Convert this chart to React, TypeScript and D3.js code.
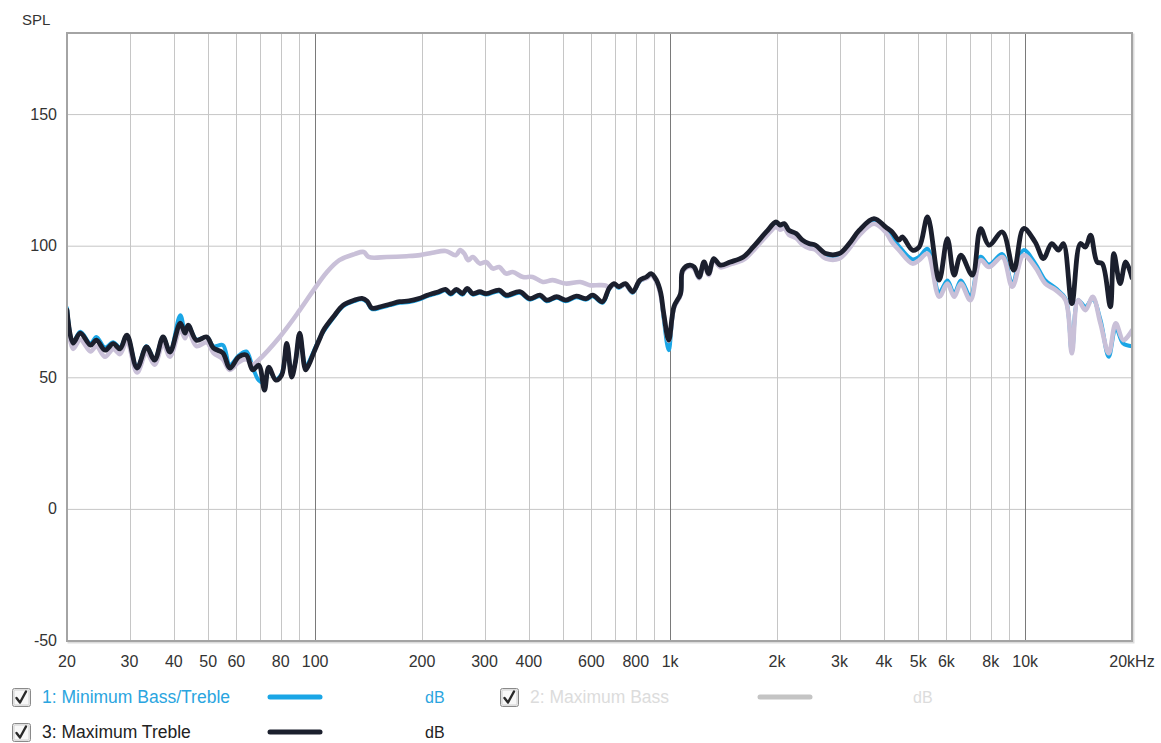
import React from "react";
import * as d3 from "d3";

// Frequency responses, [Hz, dB SPL]
const minBassTreble: [number, number][] = [
  [20, 76.5], [20.8, 63.5], [21.8, 67.5], [23.3, 63], [24.2, 65.5], [25.6, 61.5], [27, 63.5], [28.2, 61.5],
  [29.5, 66], [31.5, 54], [33.5, 62], [35.3, 57], [37.3, 65.5], [39, 60], [41.7, 73.8], [43, 68], [43.9, 70],
  [46.3, 64.5], [49.5, 65.5], [51.7, 62], [55, 62.4], [57.5, 55], [61, 58.5], [64, 60], [66.7, 54], [69.4, 49],
  [72, 48], [74, 53], [77.5, 49.5], [80.5, 51.5], [83.2, 62], [85.9, 51], [88, 56], [90.5, 66], [94, 54],
  [96, 56], [99, 60], [103.5, 65.5], [105.5, 67.5], [112.6, 72.8], [120, 77.2], [128.8, 79.1], [135.5, 79.8],
  [140, 78.8], [144.5, 76.1], [152.7, 76.6], [163, 77.6], [173, 78.5], [184, 78.8], [196, 79.7], [207, 81],
  [214, 81.6], [223, 82.3], [233, 83.2], [241, 81.6], [250, 83.2], [260, 81.6], [268, 83.6], [278, 81.6],
  [291, 82.3], [303, 81.6], [330, 82.9], [345, 81], [377, 82.3], [402, 79.7], [430, 81], [449, 79.1],
  [479, 80.4], [508, 79.1], [544, 80.6], [580, 79.7], [605, 81], [645, 78.5], [673, 83.6], [695, 85.4],
  [717, 84.2], [748, 85.4], [784, 82.3], [822, 86.7], [857, 87.9], [884, 89.2], [915, 86.7], [940, 82],
  [959, 72.5], [991, 60.5], [1025, 76.5], [1070, 81.6], [1085, 90.5], [1136, 92.4], [1169, 91.7], [1207, 87.9],
  [1246, 93.6], [1284, 89.2], [1326, 94.9], [1385, 92.4], [1477, 93.6], [1607, 95.4], [1714, 99.1],
  [1865, 104.7], [1988, 108.4], [2040, 107.4], [2097, 108], [2163, 105.4], [2264, 104.2], [2360, 101.7],
  [2460, 100.4], [2565, 99.8], [2747, 96.4], [2995, 96.4], [3195, 100.2], [3407, 105.2], [3752, 109.6],
  [4046, 106.5], [4220, 103.5], [4413, 100], [4815, 95], [5030, 96], [5310, 99], [5725, 82.5], [6040, 87],
  [6310, 82], [6590, 87], [7010, 81], [7490, 96], [7910, 93], [8625, 97], [9200, 86], [9900, 98.5],
  [10670, 93.5], [11400, 87], [12200, 84], [13000, 80], [13540, 60], [14100, 79.5], [14790, 77], [15500, 80],
  [16300, 72], [17200, 58], [18000, 69], [18900, 63], [20000, 62],
];

const maxBass: [number, number][] = [
  [20, 74], [20.8, 61], [21.8, 64.5], [23.3, 60], [24.2, 62], [25.6, 58], [27, 61], [28.2, 59], [29.5, 64],
  [31.5, 52], [33.5, 59.5], [35.3, 55], [37.3, 63], [39, 58], [41.7, 68.5], [43, 65], [43.9, 68], [46.3, 62],
  [49.5, 63.5], [51.7, 59.5], [55, 57], [57.5, 53], [61, 56], [64, 57], [66.7, 55], [69, 56.5], [80, 66],
  [90.5, 75.7], [99, 83.3], [108, 90.2], [117, 94.7], [129, 97], [137, 97.8], [141.5, 95.9], [159, 95.9],
  [181, 96.2], [197.5, 96.6], [214, 97.5], [233, 98.2], [249, 96.6], [256, 98.5], [263, 97.2], [270, 94.7],
  [278, 95.9], [291, 93.4], [303, 94], [317, 91.5], [330, 92.1], [345, 89.6], [360, 90.2], [385, 88.3],
  [410, 88.3], [438, 86.4], [467, 87.1], [508, 85.8], [558, 86.4], [594, 85.2], [633, 85.2], [660, 85],
  [673, 84], [695, 85.6], [717, 84.6], [748, 85.4], [784, 82.6], [822, 86.9], [857, 87.8], [884, 89],
  [915, 86.5], [940, 81.5], [959, 74], [991, 64], [1025, 76.5], [1070, 81.5], [1085, 90.3], [1136, 92.2],
  [1169, 91.4], [1207, 87.8], [1246, 93.4], [1284, 89], [1326, 94.6], [1385, 92], [1477, 93.1], [1607, 94.8],
  [1714, 98.3], [1865, 103.8], [1988, 107.3], [2040, 106.3], [2097, 106.8], [2163, 104.3], [2264, 103.1],
  [2360, 100.6], [2460, 99.3], [2565, 98.7], [2747, 95.3], [2995, 95.3], [3195, 99.1], [3407, 104.1],
  [3752, 108.5], [4046, 105.3], [4220, 101.5], [4413, 98.5], [4815, 93.4], [5030, 94.7], [5310, 97.2],
  [5725, 80.8], [6040, 85.8], [6310, 80.8], [6590, 85.8], [7010, 79.5], [7490, 94.7], [7910, 92.1],
  [8625, 95.9], [9200, 84.6], [9900, 96.6], [10670, 92.1], [11400, 85.8], [12200, 83.3], [13000, 79.5],
  [13540, 59.3], [14100, 79.5], [14790, 75.7], [15500, 80.8], [16300, 70.7], [17200, 59.3], [18000, 70.7],
  [18900, 64.3], [20000, 68],
];

const maxTreble: [number, number][] = [
  [20, 75.7], [20.8, 63.2], [21.8, 67], [23.3, 62.4], [24.2, 64.3], [25.6, 60.5], [27, 63], [28.2, 61],
  [29.5, 66.2], [31.5, 53.7], [33.5, 61.7], [35.3, 56.7], [37.3, 65.5], [39, 59.8], [41.7, 70.8], [43, 67],
  [43.9, 70], [46.3, 64.3], [49.5, 65.5], [51.7, 61.3], [55, 59.4], [57.5, 53.7], [61, 58], [64, 58.6],
  [66.7, 53], [69.4, 54.8], [72, 45.3], [74, 54], [77.5, 49.1], [80.5, 51], [83.2, 63.1], [85.9, 50.3],
  [88, 56], [90.5, 67], [94, 53], [96, 55], [99, 59.4], [103.5, 65.5], [105.5, 68], [112.6, 73.2],
  [120, 77.6], [128.8, 79.5], [135.5, 80.2], [140, 79.2], [144.5, 76.5], [152.7, 77], [163, 78],
  [173, 78.9], [184, 79.2], [196, 80.1], [207, 81.4], [214, 82], [223, 82.7], [233, 83.6], [241, 82],
  [250, 83.6], [260, 82], [268, 84], [278, 82], [291, 82.7], [303, 82], [330, 83.3], [345, 81.4],
  [377, 82.7], [402, 80.1], [430, 81.4], [449, 79.5], [479, 80.8], [508, 79.5], [544, 81], [580, 80.1],
  [605, 81.4], [645, 78.9], [673, 84], [695, 85.8], [717, 84.6], [748, 85.8], [784, 82.7], [822, 87.1],
  [857, 88.3], [884, 89.6], [915, 87.1], [940, 82.5], [959, 74.5], [991, 64.3], [1025, 77], [1070, 82],
  [1085, 90.9], [1136, 92.8], [1169, 92.1], [1207, 88.3], [1246, 94], [1284, 89.6], [1326, 95.3],
  [1385, 92.8], [1477, 94], [1607, 95.9], [1714, 99.7], [1865, 105.4], [1988, 109.2], [2040, 108],
  [2097, 108.6], [2163, 106], [2264, 104.8], [2360, 102.3], [2460, 101], [2565, 100.4], [2747, 97.2],
  [2995, 97.2], [3195, 101], [3407, 106], [3752, 110.5], [4046, 107.3], [4220, 105.4], [4413, 102.3],
  [4510, 103.5], [4815, 98.5], [5030, 99.7], [5310, 111.1], [5725, 87.1], [6040, 102.9], [6310, 89],
  [6590, 96.6], [7100, 89], [7490, 106.7], [7910, 100.4], [8625, 105.4], [9290, 90.9], [9900, 106.7],
  [10670, 101.6], [11260, 95.3], [11880, 101], [12410, 98.5], [12820, 101], [13540, 78.2], [14300, 101],
  [14790, 99.7], [15290, 104.2], [15950, 94], [16490, 93.4], [17380, 77], [17780, 97.2], [18520, 85.8],
  [19200, 94], [20000, 88],
];

const yTicks = [150, 100, 50, 0, -50];
const xGrid = [
  30, 40, 50, 60, 70, 80, 90, 100, 200, 300, 400, 500, 600, 700, 800, 900, 1000,
  2000, 3000, 4000, 5000, 6000, 7000, 8000, 9000, 10000,
];
const decadeLines = [100, 1000, 10000];
const xTickValues = [20, 30, 40, 50, 60, 80, 100, 200, 300, 400, 600, 800, 1000, 2000, 3000, 4000, 5000, 6000, 8000, 10000, 20000];
const xTickLabels = ["20", "30", "40", "50", "60", "80", "100", "200", "300", "400", "600", "800", "1k", "2k", "3k", "4k", "5k", "6k", "8k", "10k", "20kHz"];

const legendItems = [
  { label: "1: Minimum Bass/Treble", color: "#1aa6e6", text: "#2aa5e0", row: 0, col: 0 },
  { label: "2: Maximum Bass", color: "#c4c4c4", text: "#dcdcdc", row: 0, col: 1 },
  { label: "3: Maximum Treble", color: "#1b1f2d", text: "#222222", row: 1, col: 0 },
];

const FONT = "'Liberation Sans', Arial, sans-serif";

const left = 67, right = 1132, top = 33, bottom = 641;

const x = d3.scaleLog().domain([20, 20000]).range([left, right]);
const y = d3.scaleLinear().domain([-50, 181]).range([bottom, top]);

const line = d3
  .line<[number, number]>()
  .x((d) => x(d[0]))
  .y((d) => y(d[1]))
  .curve(d3.curveCatmullRom.alpha(0.5));

function Checkbox({ px, py }: { px: number; py: number }) {
  return (
    <g transform={`translate(${px},${py})`}>
      <rect x={0.5} y={0.5} width={18} height={18} rx={2} fill="#eeeeee" stroke="#8a8a8a" strokeWidth={1} />
      <rect x={2} y={2} width={15} height={15} rx={1} fill="#f8f8f8" stroke="#d0d0d0" strokeWidth={1} />
      <path d="M4.5,10 L8,14.5 L14,3.5" fill="none" stroke="#2a2a2a" strokeWidth={2.4} strokeLinecap="round" strokeLinejoin="round" />
    </g>
  );
}

export default function App() {
  const series = [
    { data: minBassTreble, color: "#1aa6e6", width: 4 },
    { data: maxBass, color: "#c9c0d8", width: 4.6 },
    { data: maxTreble, color: "#1b1f2d", width: 4.8 },
  ];
  return (
    <div style={{ position: "absolute", left: 0, top: 0 }}>
      <svg width={1161} height={743} style={{ display: "block", background: "#ffffff" }} fontFamily={FONT}>
        <defs>
          <clipPath id="plot-clip">
            <rect x={left} y={top} width={right - left} height={bottom - top} />
          </clipPath>
        </defs>

        {/* frame shadow */}
        <rect x={left + 1.5} y={top + 1.5} width={right - left} height={bottom - top} fill="none" stroke="#dcdcdc" strokeWidth={2} />
        <rect x={left} y={top} width={right - left} height={bottom - top} fill="#ffffff" />

        {/* grid */}
        {yTicks.map((t) => (
          <line key={`h${t}`} x1={left} x2={right} y1={y(t)} y2={y(t)} stroke="#c6c6c6" strokeWidth={1} />
        ))}
        {xGrid.map((f) => (
          <line
            key={`v${f}`}
            x1={Math.round(x(f)) + 0.5}
            x2={Math.round(x(f)) + 0.5}
            y1={top}
            y2={bottom}
            stroke={decadeLines.includes(f) ? "#7a7a7a" : "#c6c6c6"}
            strokeWidth={1}
          />
        ))}

        {/* traces */}
        <g clipPath="url(#plot-clip)">
          {series.map((s, i) => (
            <path key={i} d={line(s.data) ?? ""} fill="none" stroke={s.color} strokeWidth={s.width} strokeLinejoin="round" strokeLinecap="round" />
          ))}
        </g>

        {/* frame */}
        <rect x={left} y={top} width={right - left} height={bottom - top} fill="none" stroke="#a4a4a4" strokeWidth={2} />

        {/* axis labels */}
        <text x={22} y={25} fontSize={15} fill="#333">SPL</text>
        {yTicks.map((t) => (
          <text key={`yl${t}`} x={57} y={y(t) + 5} fontSize={16} textAnchor="end" fill="#333">
            {t}
          </text>
        ))}
        {xTickValues.map((f, i) => (
          <text key={`xl${f}`} x={x(f)} y={667} fontSize={16} textAnchor="middle" fill="#333">
            {xTickLabels[i]}
          </text>
        ))}

        {/* legend */}
        {legendItems.map((it) => {
          const ox = it.col === 0 ? 0 : 488;
          const oy = it.row === 0 ? 688 : 723;
          const lx = it.col === 0 ? 270 : 272;
          return (
            <g key={it.label}>
              <Checkbox px={12 + ox} py={oy} />
              <text x={42 + ox} y={oy + 15} fontSize={17.5} fill={it.text}>{it.label}</text>
              <line x1={lx + ox} x2={lx + 50 + ox} y1={oy + 9} y2={oy + 9} stroke={it.color} strokeWidth={5} strokeLinecap="round" />
              <text x={425 + ox} y={oy + 15} fontSize={16} fill={it.text}>dB</text>
            </g>
          );
        })}
      </svg>
    </div>
  );
}
